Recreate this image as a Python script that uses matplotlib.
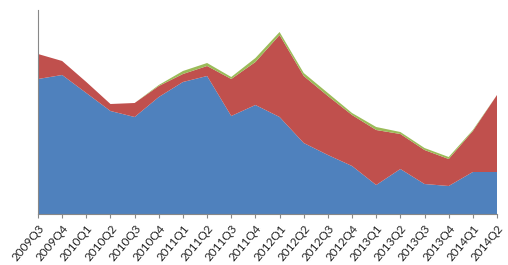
import numpy as np
import matplotlib
matplotlib.use('Agg')
import matplotlib.pyplot as plt

quarters = ['2009Q3', '2009Q4', '2010Q1', '2010Q2', '2010Q3', '2010Q4',
            '2011Q1', '2011Q2', '2011Q3', '2011Q4', '2012Q1', '2012Q2',
            '2012Q3', '2012Q4', '2013Q1', '2013Q2', '2013Q3', '2013Q4',
            '2014Q1', '2014Q2']
blue = [135, 139, 121, 103, 97, 117, 132, 138, 98, 109, 97, 71,
        59, 48, 29, 45, 30, 28, 42, 42]
red = [25, 14, 11, 7, 14, 11, 8, 10, 37, 43, 82, 67,
       59, 51, 55, 35, 34, 27, 41, 77]
green = [0, 0, 0, 0, 0, 1, 3, 3, 2, 4, 3, 3,
         3, 2, 3, 2, 2, 2, 1, 0]

x = np.arange(len(quarters))
fig = plt.figure(figsize=(5.08, 2.65), dpi=100)
ax = fig.add_axes([38 / 508, 51 / 265, 459 / 508, 204 / 265])
ax.stackplot(x, blue, red, green,
             colors=['#4F81BD', '#C0504D', '#9BBB59'], linewidth=0)
ax.set_xlim(0, len(quarters) - 1)
ax.set_ylim(0, 204)
ax.set_xticks(x)
ax.set_xticklabels(quarters, rotation=50, ha='right', rotation_mode='anchor',
                   fontsize=8.5, family='Lato', color='#222222')
ax.set_yticks([])
for s in ['top', 'right']:
    ax.spines[s].set_visible(False)
for s in ['left', 'bottom']:
    ax.spines[s].set_color('#888888')
    ax.spines[s].set_linewidth(0.8)
ax.tick_params(axis='x', length=3, color='#888888', pad=3)
fig.savefig('out.png', dpi=100)
